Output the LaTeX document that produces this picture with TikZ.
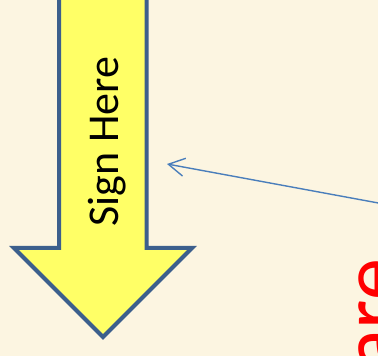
\documentclass[tikz,border=0pt]{standalone}
\usepackage{fontspec}
\setmainfont{Carlito}
\usetikzlibrary{arrows.meta}
\definecolor{paper}{RGB}{252,245,225}
\definecolor{signfill}{RGB}{255,255,102}
\definecolor{signedge}{RGB}{60,95,140}
\definecolor{pointer}{RGB}{74,126,187}
\tikzset{
  signarrow/.style={draw=signedge, fill=signfill, line width=4pt, line join=miter},
  pointerline/.style={draw=pointer, line width=1.4pt, -{Straight Barb[length=16pt,width=18pt,line width=1.4pt]}},
  biglabel/.style={text=red, font=\fontsize{84}{84}\selectfont, inner sep=0pt, rotate=90, anchor=base east}
}
\begin{document}
\begin{tikzpicture}[x=1pt,y=1pt]
  \useasboundingbox (0,0) rectangle (378,356);
  \clip (0,0) rectangle (378,356);
  \fill[paper] (0,0) rectangle (378,356);
  % big downward arrow
  \path[signarrow] (59,362) -- (59,108) -- (14,108) -- (103,19) -- (192,108)
     -- (146.5,108) -- (146.5,362) -- cycle;
  \node[rotate=90, anchor=base, inner sep=0pt, font=\fontsize{44}{44}\selectfont]
     (sign) at (118,214.5) {Sign Here};
  % red caption running off the right edge
  \node[biglabel] (caption) at (399,97) {are};
  % pointer towards the arrow
  \coordinate (src) at (400,149);
  \coordinate (ptr) at (167,192);
  \draw[pointerline] (src) -- (ptr);
\end{tikzpicture}
\end{document}
